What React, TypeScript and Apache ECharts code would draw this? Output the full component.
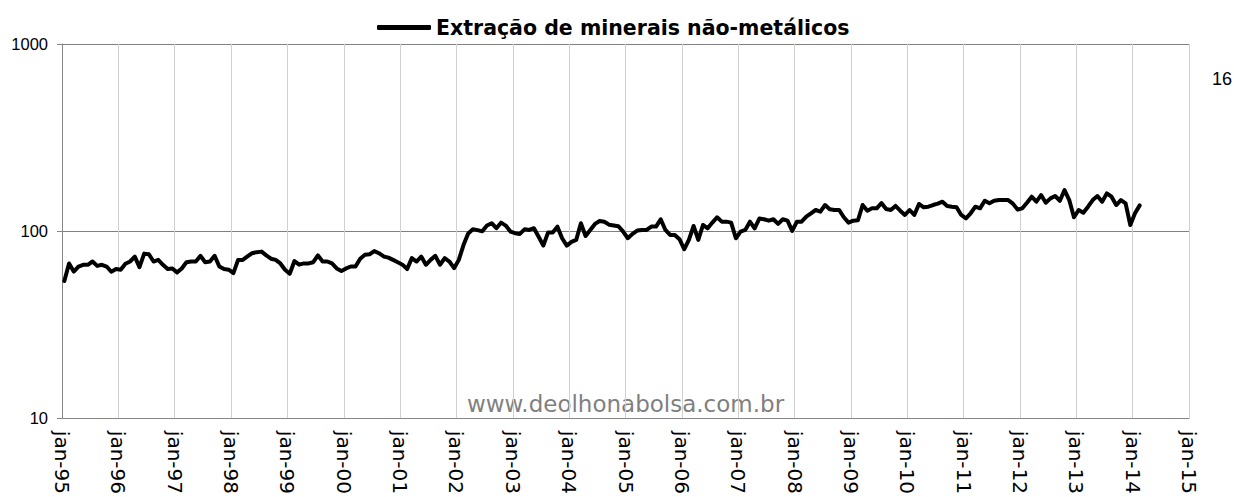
import React, { useEffect, useRef } from "react";
import * as echarts from "echarts";

const seriesName = "Extração de minerais não-metálicos";
const watermark = "www.deolhonabolsa.com.br";
const cornerLabel = "16";

const y1995 = [54, 67, 60.6, 64.5, 65.9, 65.9, 68.6, 65, 65.9, 64.5, 60.5, 62.5];
const y1996 = [62, 66.7, 68.6, 72.8, 64, 75.6, 75, 68.6, 70, 65.9, 62.5, 63];
const y1997 = [60, 63, 68, 68.6, 68.6, 73.6, 68, 68.6, 73.6, 64.5, 62.5, 62];
const y1998 = [59.5, 70, 70, 73, 76, 77, 77.5, 74, 71, 70, 67, 62];
const y1999 = [59, 69, 66, 67, 67, 68, 74, 68.6, 68.6, 67, 63, 61];
const y2000 = [63, 64.5, 64.5, 71, 74.5, 75, 78, 76, 73, 72, 70, 68];
const y2001 = [66, 62.5, 71.5, 68.6, 72.9, 65.9, 70, 73.6, 65.9, 71.5, 68.6, 63.2];
const y2002 = [70, 84, 97, 102, 101, 99.5, 107, 110, 103.4, 110.7, 106.8, 99.2];
const y2003 = [97.2, 96.4, 102, 101.2, 103.4, 93, 83.5, 98, 98, 105.4, 91.4, 83.5];
const y2004 = [87.3, 89.5, 109.9, 94, 101.2, 109, 113, 112, 108, 107, 106, 99.2];
const y2005 = [91.4, 96.4, 100.4, 101.2, 101.2, 105.5, 105.5, 115.4, 101.2, 95.2, 95.2, 90.3];
const y2006 = [79.8, 89.5, 106.3, 89.5, 107.6, 103.3, 110.8, 118.3, 112.1, 112.1, 110.8, 91.4];
const y2007 = [99.2, 101.2, 112.1, 103.3, 116.5, 115.4, 113.5, 115.4, 109, 115.4, 113.5, 100];
const y2008 = [112.1, 112.1, 119.2, 124.3, 129.4, 126.8, 137.6, 130.5, 129.4, 129.4, 118.3, 110.8];
const y2009 = [113.5, 114, 137.6, 128.3, 132.1, 132.1, 141, 131, 129.4, 136, 128.3, 121.7];
const y2010 = [129.4, 121.7, 139.4, 133.8, 134.8, 137.6, 140, 143.3, 136, 134.8, 133.8, 121.7];
const y2011 = [116.8, 124.3, 134.8, 132.1, 145, 140.5, 145, 146.3, 146.3, 146.3, 140, 130];
const y2012 = [132.1, 141.6, 152.4, 143.3, 155.6, 141.6, 149.3, 153.7, 145, 165.4, 146.3, 118.3];
const y2013 = [129.4, 125.2, 134.8, 146.3, 153.7, 143.3, 158.8, 152.4, 137.6, 146.3, 140.5, 107.6];
const y2014 = [124.3, 137];

const startYear = 1995;
const axisMonths = 240; // jan-95 .. jan-15

export default function App() {
  const ref = useRef<HTMLDivElement>(null);
  useEffect(() => {
    if (!ref.current) return;
    const chart = echarts.init(ref.current, undefined, { renderer: "svg" });
    const values = [
      ...y1995, ...y1996, ...y1997, ...y1998, ...y1999, ...y2000, ...y2001,
      ...y2002, ...y2003, ...y2004, ...y2005, ...y2006, ...y2007, ...y2008,
      ...y2009, ...y2010, ...y2011, ...y2012, ...y2013, ...y2014,
    ];
    const data = values.map((v, i) => [i + 0.5, v]);
    chart.setOption({
      animation: false,
      backgroundColor: "#ffffff",
      grid: { left: 62, right: 45, top: 44, bottom: 78, containLabel: false },
      legend: {
        data: [seriesName],
        left: 372,
        top: 12,
        icon: "roundRect",
        itemWidth: 54,
        itemHeight: 5,
        textStyle: {
          fontFamily: "DejaVu Sans",
          fontWeight: "bold",
          fontSize: 20.5,
          color: "#000",
        },
      },
      xAxis: {
        type: "value",
        min: 0,
        max: axisMonths,
        interval: 12,
        axisLine: { show: true, lineStyle: { color: "#868686", width: 1 } },
        axisTick: { show: false },
        splitLine: { show: true, lineStyle: { color: "#d0d0d0", width: 1 } },
        axisLabel: {
          rotate: -90,
          margin: 13,
          showMinLabel: true,
          showMaxLabel: true,
          fontFamily: "DejaVu Sans",
          fontSize: 20,
          color: "#000",
          formatter: (v: number) => {
            const yr = (startYear + Math.round(v / 12)) % 100;
            return "jan-" + String(yr).padStart(2, "0");
          },
        },
      },
      yAxis: {
        type: "log",
        logBase: 10,
        min: 10,
        max: 1000,
        axisLine: { show: true, lineStyle: { color: "#868686", width: 1 } },
        axisTick: { show: true, length: 5, lineStyle: { color: "#868686" } },
        splitLine: { show: true, lineStyle: { color: "#808080", width: 1 } },
        minorSplitLine: { show: false },
        axisLabel: {
          margin: 14,
          fontFamily: "Liberation Sans, Arial, sans-serif",
          fontSize: 16.5,
          color: "#000",
          formatter: (v: number) => String(Math.round(v)),
        },
      },
      graphic: [
        {
          type: "text",
          left: 467,
          top: 392,
          style: {
            text: watermark,
            fontFamily: "DejaVu Sans",
            fontSize: 23,
            fill: "#7f7f7f",
          },
        },
        {
          type: "text",
          left: 1212,
          top: 70,
          style: {
            text: cornerLabel,
            fontFamily: "Liberation Sans, Arial, sans-serif",
            fontSize: 18,
            fill: "#000",
          },
        },
      ],
      series: [
        {
          name: seriesName,
          type: "line",
          data,
          symbol: "none",
          showSymbol: false,
          color: "#000",
          lineStyle: { color: "#000", width: 4, cap: "round", join: "round" },
        },
      ],
    });
    return () => chart.dispose();
  }, []);
  return (
    <div
      ref={ref}
      style={{ position: "absolute", left: 0, top: 0, width: 1234, height: 497 }}
    />
  );
}
